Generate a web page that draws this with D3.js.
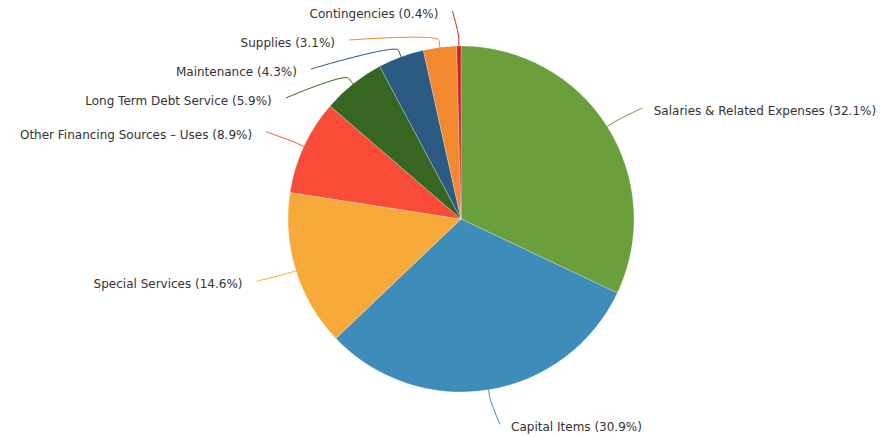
<!DOCTYPE html>
<html>
<head>
<meta charset="utf-8">
<script src="https://cdn.jsdelivr.net/npm/d3@7"></script>
<style>
  html, body { margin: 0; padding: 0; background: #fff; }
  svg { display: block; }
  text { font-family: "DejaVu Sans", sans-serif; font-size: 12px; fill: #333; }
</style>
</head>
<body>
<svg id="chart" width="881" height="437"></svg>
<script>
// ---- data ----
const categories = [
  "Salaries & Related Expenses",
  "Capital Items",
  "Special Services",
  "Other Financing Sources – Uses",
  "Long Term Debt Service",
  "Maintenance",
  "Supplies",
  "Contingencies"
];
const percentages = [32.1, 30.9, 14.6, 8.9, 5.9, 4.3, 3.1, 0.4];
const colors = ["#6a9f3b", "#3e8cba", "#f7aa39", "#f84b38", "#366621", "#2b5a83", "#f2892e", "#c9262c"];

// ---- layout ----
const W = 881, H = 437;
const cx = 461, cy = 219, r = 173;
const labelDistance = 35;
const R = r + labelDistance;
const breakOffset = 7;
const minGap = 29;
const topLimit = 10;

const svg = d3.select("#chart");
const g = svg.append("g");

const pie = d3.pie().sort(null).value(d => d);
const arcs = pie(percentages);
const arcGen = d3.arc().innerRadius(0).outerRadius(r);

const color = d3.scaleOrdinal().domain(categories).range(colors);

// slices
g.selectAll("path.slice")
  .data(arcs)
  .join("path")
  .attr("class", "slice")
  .attr("transform", `translate(${cx},${cy})`)
  .attr("d", arcGen)
  .attr("fill", (d, i) => color(categories[i]))
  .attr("stroke", "#fff")
  .attr("stroke-opacity", 0.5)
  .attr("stroke-width", 0.5);

// label geometry
const items = arcs.map((a, i) => {
  const mid = (a.startAngle + a.endAngle) / 2;
  const s = Math.sin(mid), c = Math.cos(mid);
  return {
    i,
    left: s < 0,
    tx: cx + r * s, ty: cy - r * c,
    bx: cx + (r + breakOffset) * s, by: cy - (r + breakOffset) * c,
    ny: cy - R * c,
    text: `${categories[i]} (${percentages[i].toFixed(1)}%)`
  };
});

// distribute labels on each side to avoid overlap
[true, false].forEach(side => {
  const list = items.filter(d => d.left === side).sort((a, b) => a.ny - b.ny);
  let prev = -Infinity;
  list.forEach(d => {
    const y = Math.max(d.ny, topLimit, prev + minGap);
    d.y = y;
    prev = y;
  });
});

items.forEach(d => {
  const dy = Math.max(-R, Math.min(R, d.y - cy));
  const xx = Math.sqrt(R * R - dy * dy);
  const x = cx + (d.left ? -xx : xx);
  d.cx = x + (d.left ? -6 : 6);
  d.lx = d.cx + (d.left ? -14 : 11);
});

// connectors
g.selectAll("path.connector")
  .data(items)
  .join("path")
  .attr("class", "connector")
  .attr("fill", "none")
  .attr("stroke", d => color(categories[d.i]))
  .attr("stroke-width", 1)
  .attr("d", d => {
    const p = d3.path();
    p.moveTo(d.cx, d.y);
    p.bezierCurveTo(d.cx, d.y, 2 * d.bx - d.tx, 2 * d.by - d.ty, d.bx, d.by);
    p.lineTo(d.tx, d.ty);
    return p.toString();
  });

// labels
g.selectAll("text.label")
  .data(items)
  .join("text")
  .attr("class", "label")
  .attr("x", d => d.lx)
  .attr("y", d => d.y + 7)
  .attr("text-anchor", d => d.left ? "end" : "start")
  .text(d => d.text);
</script>
</body>
</html>
